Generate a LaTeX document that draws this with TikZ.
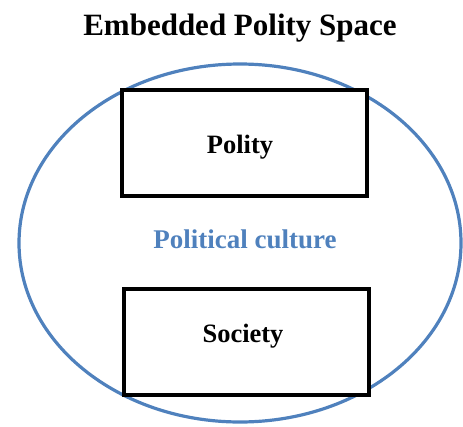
\documentclass[tikz,border=0pt]{standalone}
\usepackage{fontspec}
\setmainfont{Liberation Serif}
\usetikzlibrary{positioning}

\definecolor{cultureblue}{RGB}{79,129,189}

\tikzset{
  titletext/.style={font=\fontsize{31}{36}\selectfont\bfseries, anchor=base},
  boxtext/.style={font=\fontsize{26.5}{32}\selectfont\bfseries, anchor=base},
  culturetext/.style={font=\fontsize{27}{32}\selectfont\bfseries, text=cultureblue, anchor=base},
  spacebox/.style={draw=black, line width=3.4pt, fill=white, minimum width=245pt, minimum height=106pt, inner sep=0pt},
  culture/.style={draw=cultureblue, line width=3.2pt}
}

\begin{document}
\begin{tikzpicture}[x=1pt, y=-1pt]

    % Fix the page to the size of the reference (y grows downwards)
    \useasboundingbox (0,0) rectangle (463,426);

    % Ellipse centre and radii
    \pgfmathsetmacro{\ecx}{240}
    \pgfmathsetmacro{\ecy}{243}

    % Title on top
    \node[titletext] (title) at (240,35) {Embedded Polity Space};

    % Draw the political culture that holds everything
    \draw[culture] (\ecx,\ecy) ellipse [x radius=221pt, y radius=179pt];

    % The two boxes sitting in it
    \node[spacebox] (polity) at (244.5,143) {};
    \node[spacebox] (society) at (246.5,342) {};

    % Write the labels
    \node[boxtext] (politylabel) at (240,153) {Polity};
    \node[boxtext] (societylabel) at (243,342) {Society};
    \node[culturetext] (culturelabel) at (245,248) {Political culture};

\end{tikzpicture}
\end{document}
